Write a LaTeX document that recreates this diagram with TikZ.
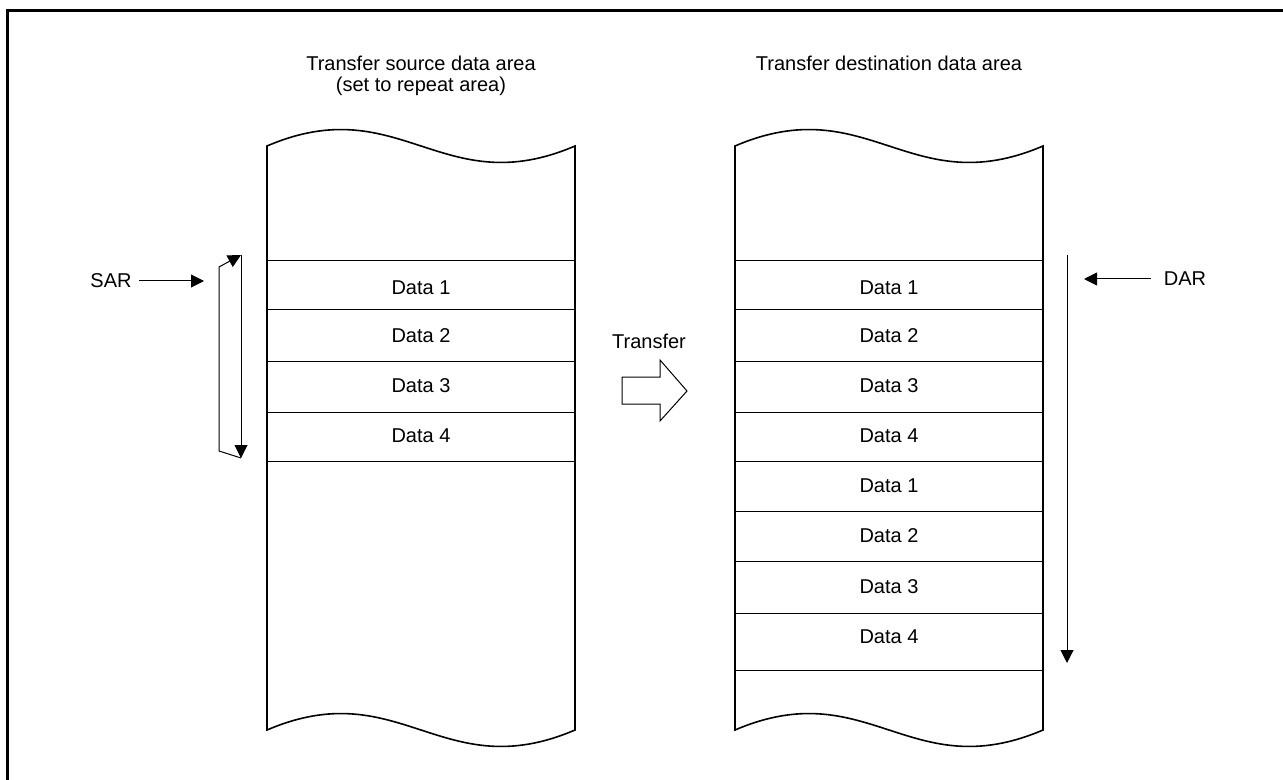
\documentclass[tikz,border=0pt]{standalone}
\usepackage{fontspec}
\setmainfont{Liberation Sans}
\usetikzlibrary{arrows.meta}
\tikzset{
  area/.style={draw, line width=0.8pt},
  row/.style={draw, line width=0.5pt},
  ptr/.style={draw, line width=0.5pt, -{Triangle[length=6.5pt,width=6.5pt]}},
  lbl/.style={inner sep=0pt, font=\fontsize{10}{12}\selectfont}
}
\begin{document}
\begin{tikzpicture}[x=0.5pt,y=-0.5pt]
  \useasboundingbox (0,0) rectangle (1283,780);
  \draw[line width=1.5pt] (7,790) -- (7,11) -- (1290,11);

  % both data areas
  \foreach \x in {267,735} {
    \draw[area] (\x,146) .. controls (\x+133,89) and (\x+175,203) .. (\x+308,146)
      -- (\x+308,730) .. controls (\x+175,787) and (\x+133,673) .. (\x,730) -- cycle;
    }
  \foreach \y in {261,310,361,412,461} {
    \draw[row] (267,\y) -- (575,\y);
    }
  \foreach \y in {261,310,361,412,461,511,561,613,670} {
    \draw[row] (735,\y) -- (1043,\y);
    }

  \node[lbl, anchor=base] (srctitle) at (421,70.5) {Transfer source data area};
  \node[lbl, anchor=base] (srcsub) at (421,91.5) {(set to repeat area)};
  \node[lbl, anchor=base] (dsttitle) at (889,70.5) {Transfer destination data area};

  \foreach \i/\y in {1/288,2/336,3/386,4/436} {
    \node[lbl] (s\i) at (421,\y) {Data \i};
    }
  \foreach \i/\n/\y in {1/1/288,2/2/336,3/3/386,4/4/436,5/1/486,6/2/536,7/3/587,8/4/637} {
    \node[lbl] (d\i) at (889,\y) {Data \n};
    }

  % SAR with repeat loop
  \node[lbl] (sar) at (111,281) {SAR};
  \coordinate (sarend) at (204,281);
  \draw[ptr] ([xshift=3.5pt]sar.east) -- (sarend);
  \coordinate (rtop) at (241,255);
  \coordinate (rbot) at (241,458);
  \draw[ptr] (rtop) -- (rbot);
  \draw[ptr] (rbot) -- (219,451) -- (219,267) -- (rtop);

  % transfer
  \node[lbl] (xfer) at (649,341) {Transfer};
  \draw[line width=0.5pt] (622,377) -- (660,377) -- (660,360) -- (687,391)
    -- (660,421) -- (660,404) -- (622,404) -- cycle;

  % DAR
  \node[lbl] (dar) at (1185,279) {DAR};
  \coordinate (darend) at (1084,279);
  \draw[ptr] ([xshift=-6.5pt]dar.west) -- (darend);
  \coordinate (dtop) at (1067,255);
  \coordinate (dbot) at (1067,663);
  \draw[ptr] (dtop) -- (dbot);
\end{tikzpicture}
\end{document}
